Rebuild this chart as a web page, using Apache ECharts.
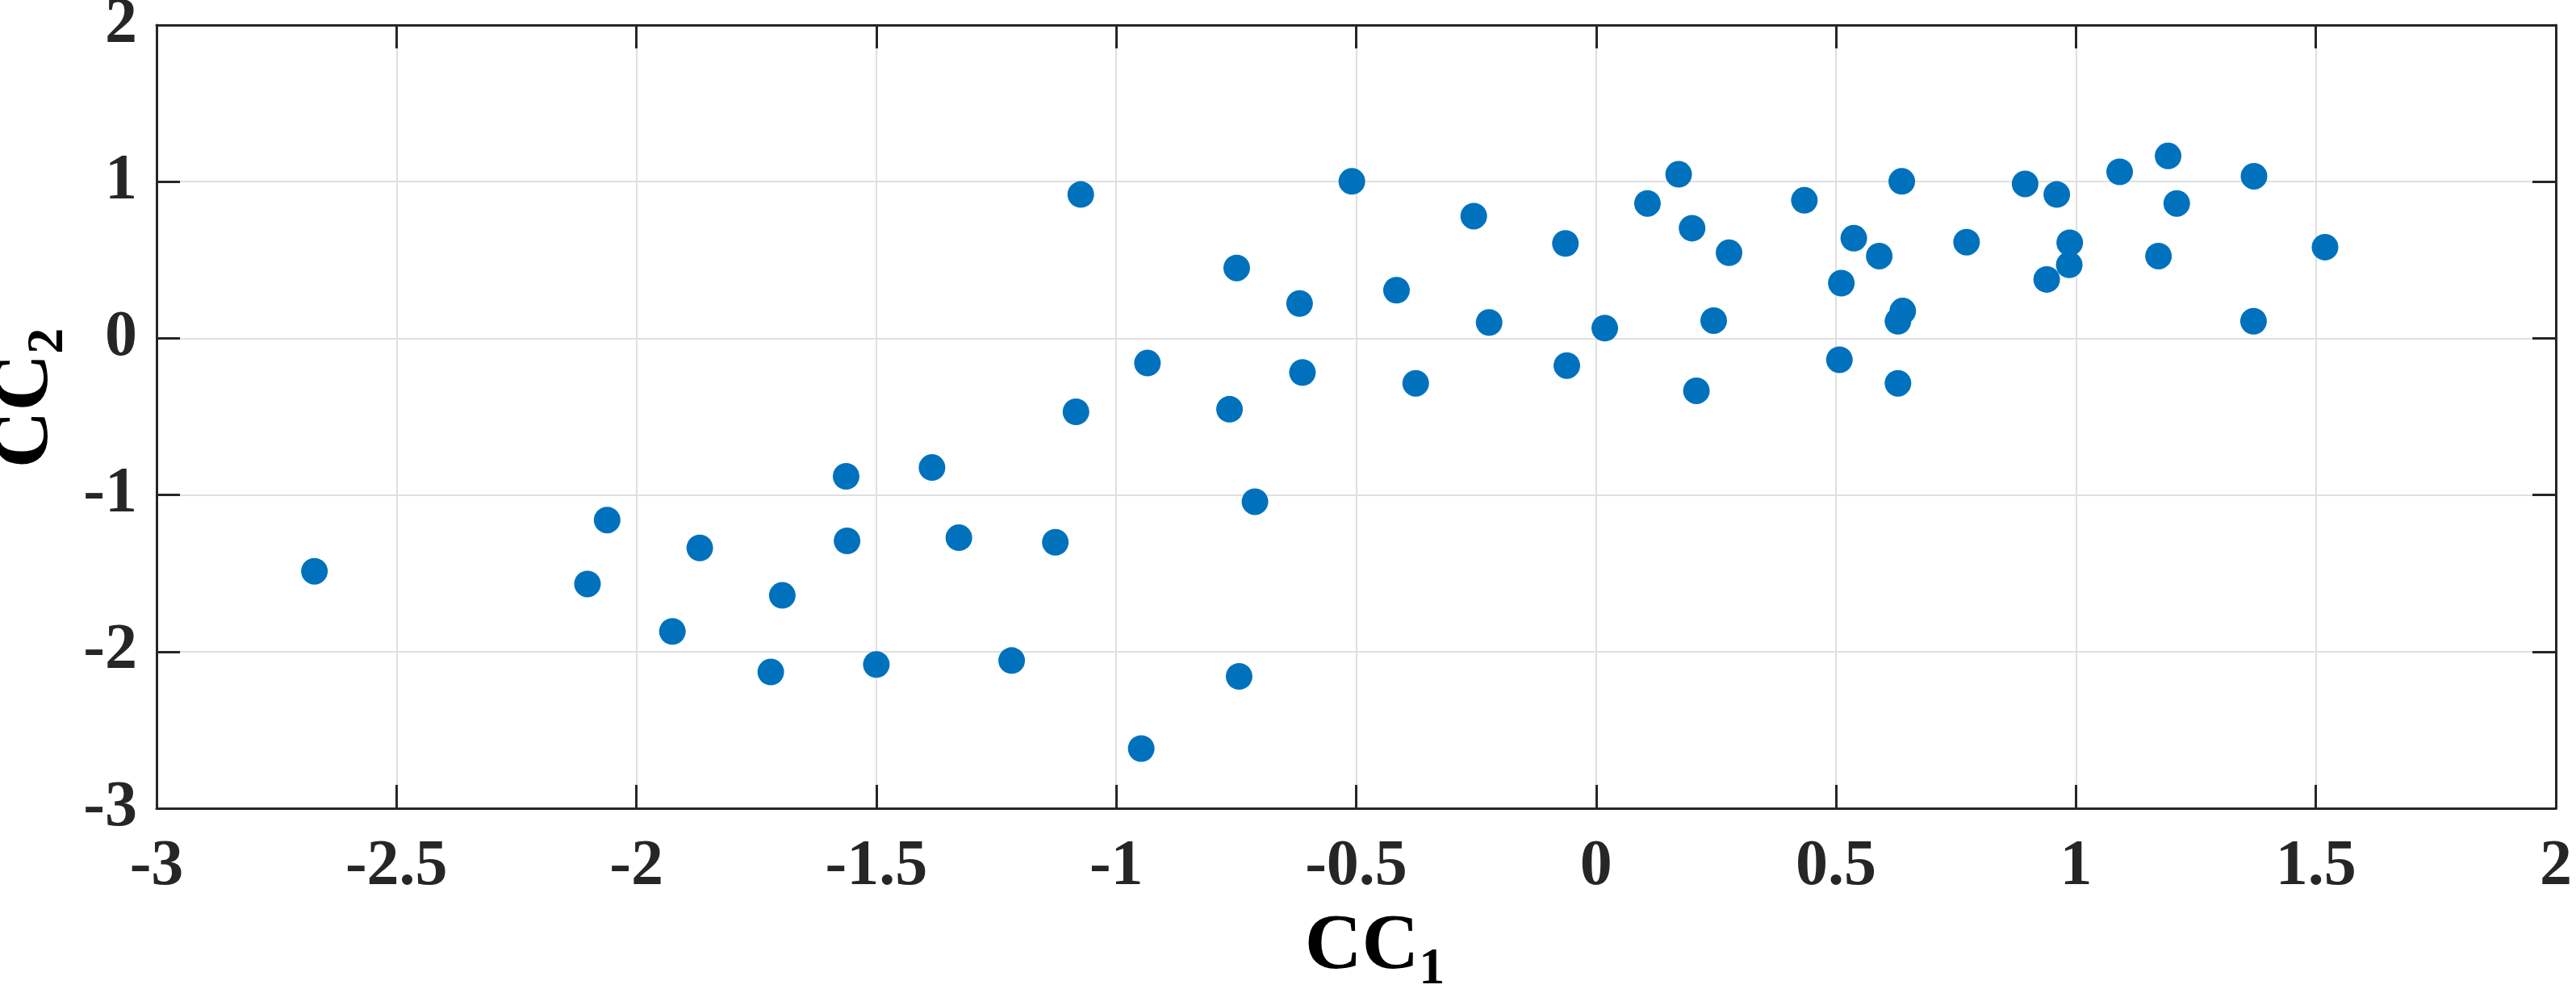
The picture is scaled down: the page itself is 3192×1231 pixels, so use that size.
<!DOCTYPE html>
<html>
<head>
<meta charset="utf-8">
<script src="https://cdn.jsdelivr.net/npm/echarts@6/dist/echarts.min.js"></script>
<style>
  html, body { margin: 0; padding: 0; background: #fff; }
  #chart { width: 3192px; height: 1231px; }
</style>
</head>
<body>
<div id="chart"></div>
<script>
// canonical scores
var cc1 = [
  -2.671, -2.102, -2.061, -1.868, -1.925, -1.696, -1.720, -1.563, -1.561, -1.500,
  -1.384, -1.328, -1.218, -1.127, -1.084, -1.074, -0.948, -0.935, -0.764, -0.749,
  -0.744, -0.711, -0.618, -0.612, -0.509, -0.416, -0.376, -0.255, -0.223, -0.064,
  -0.061, 0.018, 0.107, 0.172, 0.200, 0.277, 0.245, 0.209, 0.434, 0.537,
  0.511, 0.507, 0.590, 0.637, 0.639, 0.629, 0.629, 0.772, 0.894, 0.960,
  0.939, 0.987, 0.986, 1.091, 1.192, 1.210, 1.172, 1.371, 1.370, 1.519
];
var cc2 = [
  -1.487, -1.568, -1.160, -1.338, -1.871, -1.641, -2.130, -0.881, -1.293, -2.082,
  -0.825, -1.273, -2.057, -1.302, -0.469, 0.918, -2.619, -0.158, -0.453, 0.449,
  -2.158, -1.043, 0.222, -0.218, 1.002, 0.307, -0.287, 0.780, 0.101, 0.606,
  -0.174, 0.065, 0.861, 1.047, 0.703, 0.546, 0.113, -0.335, 0.881, 0.639,
  0.352, -0.137, 0.525, 1.002, 0.174, 0.109, -0.287, 0.614, 0.986, 0.918,
  0.376, 0.610, 0.469, 1.063, 1.164, 0.861, 0.525, 1.035, 0.109, 0.582
];
var xRange = [-3, 2];
var yRange = [-3, 2];

var textColor = '#262626';
var labelFont = { fontFamily: 'Liberation Serif', fontWeight: 'bold', fontSize: 80, color: textColor };

function boxAxis(pos, isX, showLabel, name) {
  var r = isX ? xRange : yRange;
  return {
    type: 'value',
    position: pos,
    min: r[0],
    max: r[1],
    interval: isX ? 0.5 : 1,
    axisLine: { show: true, onZero: false, lineStyle: { color: textColor, width: 3 } },
    axisTick: { show: true, inside: true, length: 29, lineStyle: { color: textColor, width: 3 } },
    splitLine: { show: showLabel, lineStyle: { color: '#dfdfdf', width: 2 } },
    axisLabel: Object.assign({ show: showLabel, margin: isX ? 33 : 24 }, labelFont),
    name: name || '',
    nameLocation: 'middle',
    nameGap: isX ? 124 : 102,
    nameRotate: isX ? 0 : 90,
    nameTextStyle: {
      rich: {
        a: { fontFamily: 'Liberation Serif', fontWeight: 'bold', fontSize: 98, color: '#000',
             verticalAlign: 'bottom', padding: [0, 0, 10, 46] },
        b: { fontFamily: 'Liberation Serif', fontWeight: 'bold', fontSize: 64, color: '#000',
             verticalAlign: 'bottom' }
      }
    }
  };
}

var points = cc1.map(function (v, i) { return [v, cc2[i]]; });

var chart = echarts.init(document.getElementById('chart'));
chart.setOption({
  animation: false,
  grid: { left: 194, right: 25, top: 31, bottom: 229, outerBoundsMode: 'none', containLabel: false },
  xAxis: [
    boxAxis('bottom', true, true, '{a|CC}{b|1}'),
    boxAxis('top', true, false)
  ],
  yAxis: [
    boxAxis('left', false, true, '{a|CC}{b|2}'),
    boxAxis('right', false, false)
  ],
  series: [{
    type: 'scatter',
    data: points,
    symbolSize: 33,
    itemStyle: { color: '#0072BD', opacity: 1 }
  }]
});
</script>
</body>
</html>
